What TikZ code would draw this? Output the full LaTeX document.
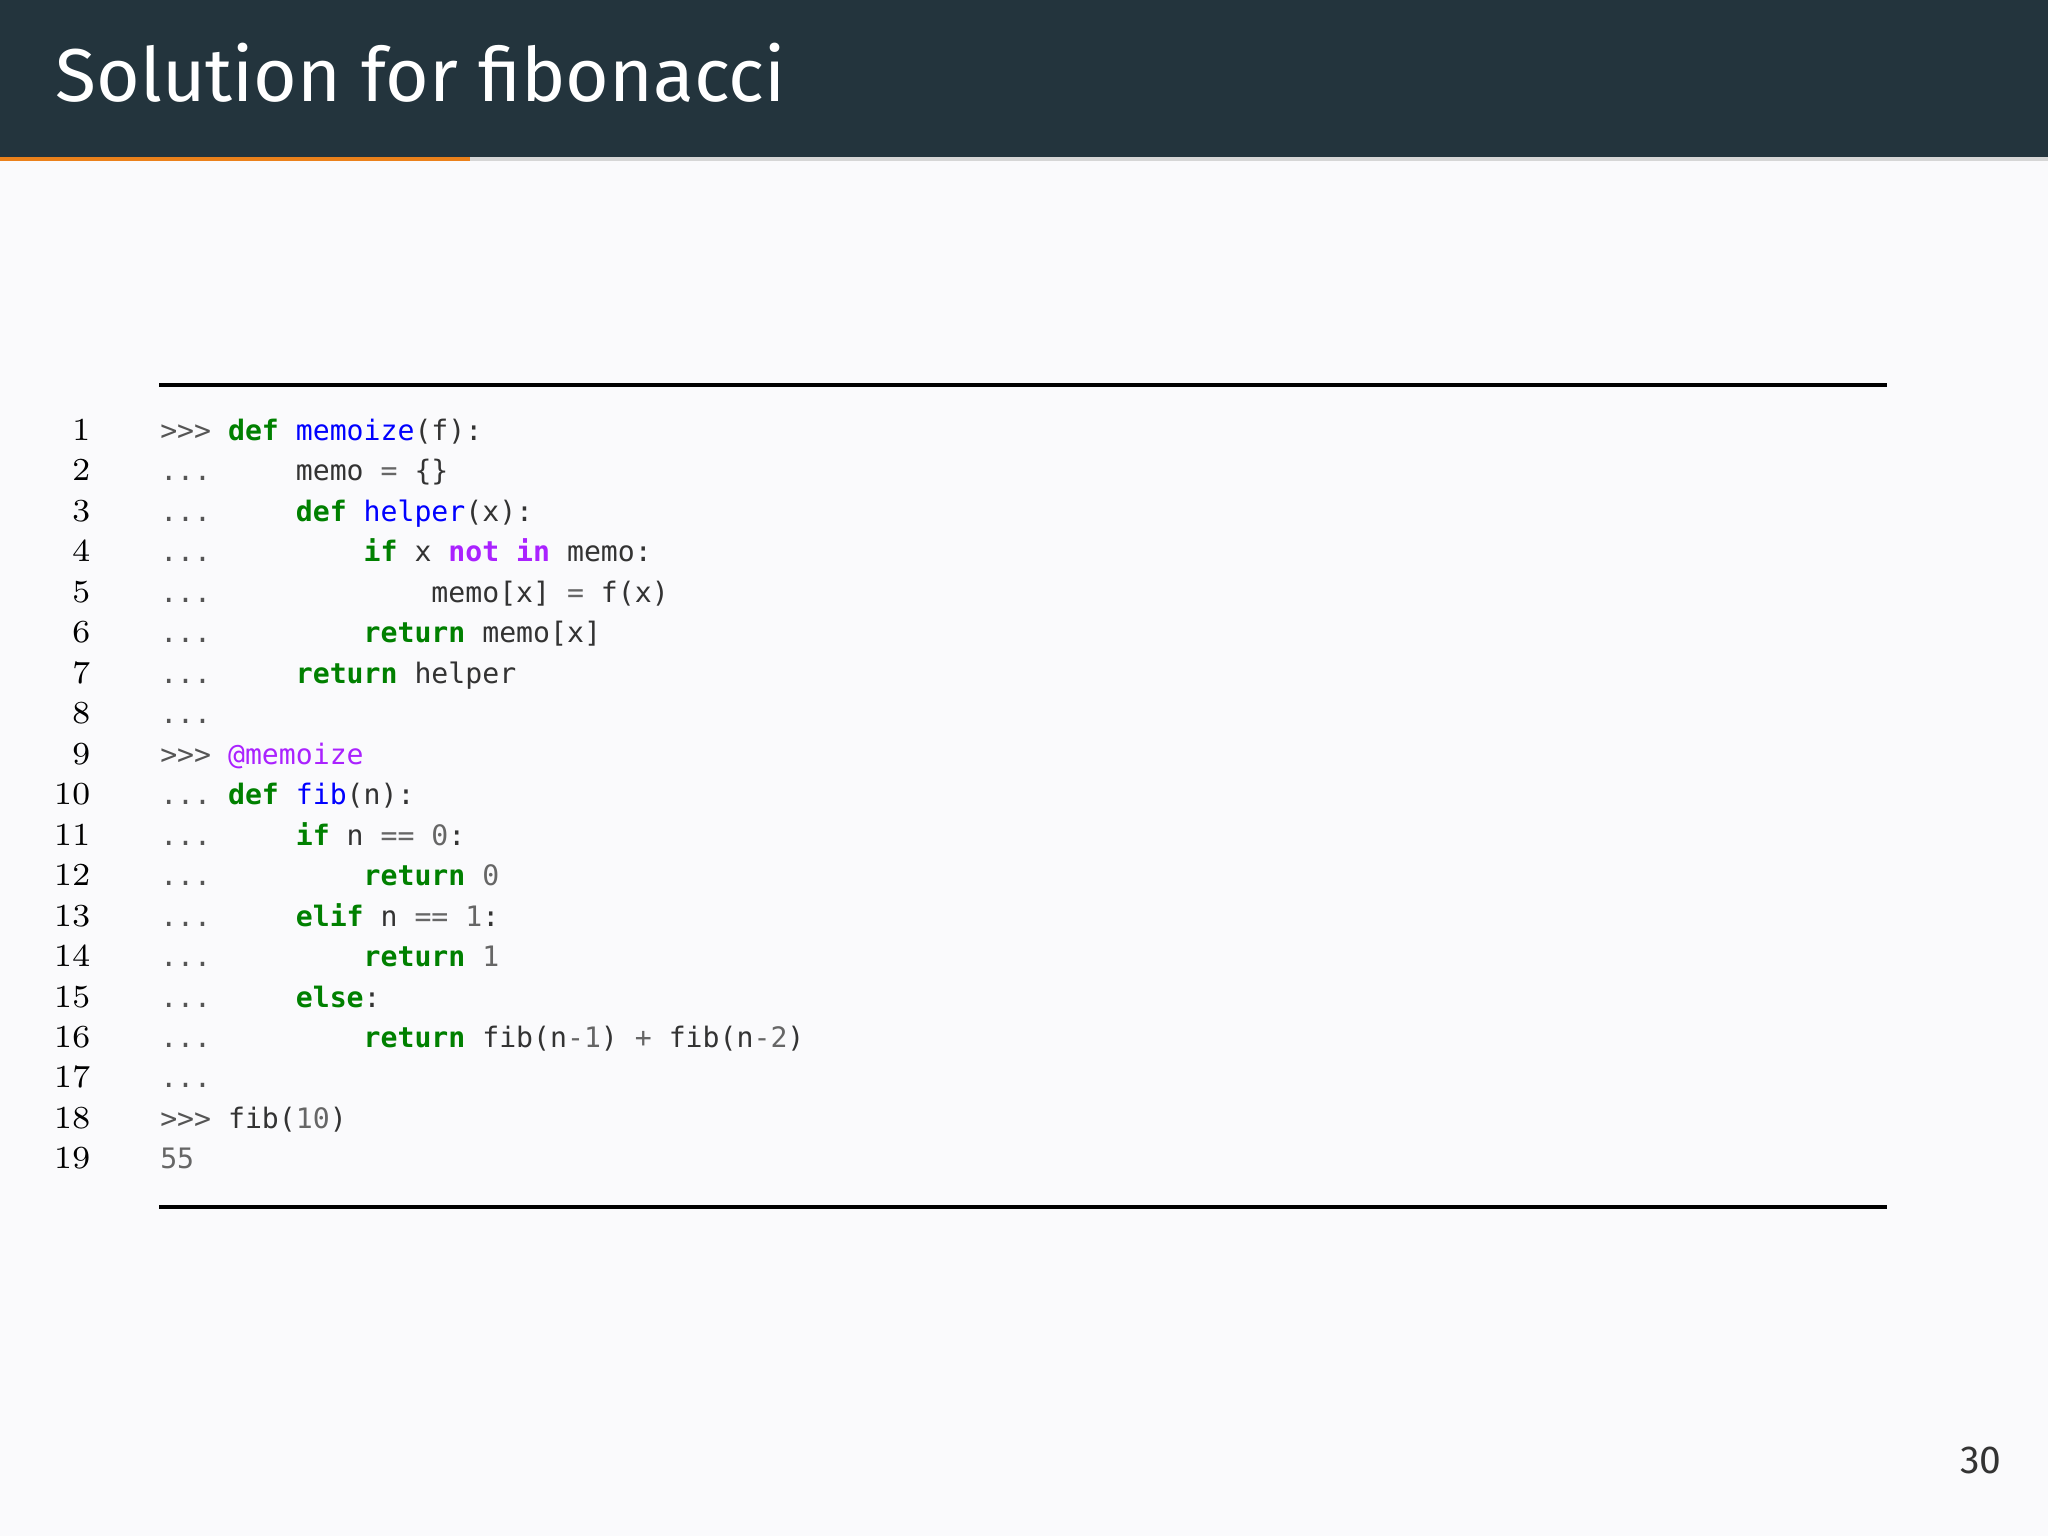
\documentclass[tikz,border=0pt]{standalone}
\usepackage{fontspec}
\setsansfont{Fira Sans}
\setmonofont{DejaVu Sans Mono}
\definecolor{bg}{HTML}{FAFAFC}
\definecolor{bar}{HTML}{23343D}
\definecolor{orng}{HTML}{EB811B}
\definecolor{gln}{HTML}{D6D6D6}
\definecolor{kw}{HTML}{008000}
\definecolor{fn}{HTML}{0000FF}
\definecolor{pur}{HTML}{AA22FF}
\definecolor{num}{HTML}{666666}
\definecolor{prm}{HTML}{555555}
\definecolor{txt}{HTML}{333333}
\newcommand{\cK}[1]{\textcolor{kw}{\bfseries #1}}
\newcommand{\cF}[1]{\textcolor{fn}{#1}}
\newcommand{\cW}[1]{\textcolor{pur}{\bfseries #1}}
\newcommand{\cN}[1]{\textcolor{num}{#1}}
\newcommand{\cP}[1]{\textcolor{prm}{#1}}
\begin{document}
\begin{tikzpicture}[x=0.01cm,y=-0.01cm,
  code/.style={anchor=base west,inner sep=0,text=txt,font=\ttfamily\fontsize{6.13pt}{7pt}\selectfont},
  lno/.style={anchor=base east,inner sep=0,text=black,font=\rmfamily\fontsize{7pt}{8pt}\selectfont}]
\fill[bg] (0,0) rectangle (1568,1176);
\useasboundingbox (0,0) rectangle (1568,1176);
\fill[bar] (0,0) rectangle (1568,120);
\fill[gln] (0,120) rectangle (1568,123);
\fill[orng] (0,120) rectangle (360,123);
\node[anchor=base west,inner sep=0,text=white,font=\sffamily\fontsize{16.3pt}{18pt}\selectfont] (title) at (42,78) {Solution for fibonacci};
\draw[line width=0.8pt] (122,295) coordinate (r1a) -- (1445,295) coordinate (r1b);
\draw[line width=0.8pt] (122,924) coordinate (r2a) -- (1445,924) coordinate (r2b);
\foreach \i in {1,...,19}{\node[lno] (n\i) at (70,{337+31*(\i-1)}) {\i};}
\newcommand{\Ln}[2]{\node[code] (c#1) at (122,{337+31*(#1-1)}) {#2};}
\Ln{1}{\cP{>>>}\ \cK{def}\ \cF{memoize}(f):}
\Ln{2}{\cP{...}\ \ \ \ \ memo\ \cN{=}\ \{\}}
\Ln{3}{\cP{...}\ \ \ \ \ \cK{def}\ \cF{helper}(x):}
\Ln{4}{\cP{...}\ \ \ \ \ \ \ \ \ \cK{if}\ x\ \cW{not}\ \cW{in}\ memo:}
\Ln{5}{\cP{...}\ \ \ \ \ \ \ \ \ \ \ \ \ memo[x]\ \cN{=}\ f(x)}
\Ln{6}{\cP{...}\ \ \ \ \ \ \ \ \ \cK{return}\ memo[x]}
\Ln{7}{\cP{...}\ \ \ \ \ \cK{return}\ helper}
\Ln{8}{\cP{...}}
\Ln{9}{\cP{>>>}\ \textcolor{pur}{@memoize}}
\Ln{10}{\cP{...}\ \cK{def}\ \cF{fib}(n):}
\Ln{11}{\cP{...}\ \ \ \ \ \cK{if}\ n\ \cN{==}\ \cN{0}:}
\Ln{12}{\cP{...}\ \ \ \ \ \ \ \ \ \cK{return}\ \cN{0}}
\Ln{13}{\cP{...}\ \ \ \ \ \cK{elif}\ n\ \cN{==}\ \cN{1}:}
\Ln{14}{\cP{...}\ \ \ \ \ \ \ \ \ \cK{return}\ \cN{1}}
\Ln{15}{\cP{...}\ \ \ \ \ \cK{else}:}
\Ln{16}{\cP{...}\ \ \ \ \ \ \ \ \ \cK{return}\ fib(n\cN{-1})\ \cN{+}\ fib(n\cN{-2})}
\Ln{17}{\cP{...}}
\Ln{18}{\cP{>>>}\ fib(\cN{10})}
\Ln{19}{\textcolor{num}{55}}
\node[anchor=base east,inner sep=0,text=txt,font=\sffamily\fontsize{8.5pt}{10pt}\selectfont] (pg) at (1533,1128) {30};
\end{tikzpicture}
\end{document}
